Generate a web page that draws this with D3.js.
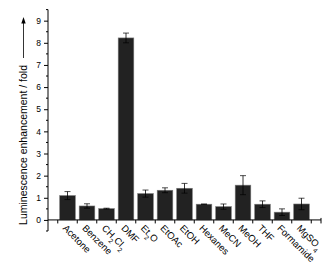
<!DOCTYPE html>
<html>
<head>
<meta charset="utf-8">
<script src="https://cdn.jsdelivr.net/npm/d3@7"></script>
<style>
  body { margin: 0; background: #fff; }
  svg { display: block; font-family: "Liberation Sans", Arial, sans-serif; }
</style>
</head>
<body>
<div id="chart"></div>
<script>
// solvents, as [main, subscript, main, subscript...] pieces
const solvents = [
    ["Acetone"], ["Benzene"], ["CH", "2", "Cl", "2"], ["DMF"], ["Et", "2", "O"],
    ["EtOAc"], ["EtOH"], ["Hexanes"], ["MeCN"], ["MeOH"], ["THF"], ["Formamide"], ["MgSO", "4"]
];
const enhancement = [1.10, 0.63, 0.51, 8.22, 1.19, 1.34, 1.43, 0.71, 0.60, 1.57, 0.71, 0.35, 0.72];
const errors = [0.18, 0.10, 0.02, 0.22, 0.16, 0.11, 0.22, 0.01, 0.12, 0.43, 0.15, 0.15, 0.26];
const yTicks = [0, 1, 2, 3, 4, 5, 6, 7, 8, 9];

const width = 332, height = 273;

const svg = d3.select("#chart")
    .append("svg")
    .attr("width", width)
    .attr("height", height);

const x = d3.scaleLinear().domain([0, 14]).range([48, 321]);
const y = d3.scaleLinear().domain([-0.5, 9.5]).range([231, 9.6]);
const barW = 0.8;

// bars
const bars = svg.selectAll(".bar")
    .data(enhancement)
    .enter()
    .append("g")
    .classed("bar", true);

bars.append("rect")
    .attr("x", (d, i) => x(i + 1 - barW / 2))
    .attr("y", d => y(d))
    .attr("width", x(barW) - x(0))
    .attr("height", d => y(0) - y(d))
    .attr("fill", "#222")
    .attr("stroke", "#777")
    .attr("stroke-width", 0.6);

// error bars
bars.append("line")
    .attr("x1", (d, i) => x(i + 1))
    .attr("x2", (d, i) => x(i + 1))
    .attr("y1", (d, i) => y(d - errors[i]))
    .attr("y2", (d, i) => y(d + errors[i]))
    .attr("stroke", "#000")
    .attr("stroke-width", 0.8);

[-1, 1].forEach(s => {
    bars.append("line")
        .attr("x1", (d, i) => x(i + 1) - 3)
        .attr("x2", (d, i) => x(i + 1) + 3)
        .attr("y1", (d, i) => y(d + s * errors[i]))
        .attr("y2", (d, i) => y(d + s * errors[i]))
        .attr("stroke", "#000")
        .attr("stroke-width", 0.7);
});

// y axis
const yAxis = svg.append("g")
    .attr("transform", `translate(${x(0)},0)`)
    .call(d3.axisLeft(y).tickValues(yTicks).tickSize(4).tickPadding(3).tickFormat(d3.format("d")));
yAxis.select(".domain").attr("d", `M0,${y(-0.5)}V${y(9.5)}`);
yAxis.selectAll("text").style("font-size", "8.5px").attr("fill", "#000");

svg.append("g")
    .selectAll("line")
    .data(d3.range(-0.5, 9.6, 1))
    .enter()
    .append("line")
    .attr("x1", x(0) - 2)
    .attr("x2", x(0))
    .attr("y1", d => y(d))
    .attr("y2", d => y(d))
    .attr("stroke", "#000");

// x axis at zero
svg.append("line")
    .attr("x1", x(0))
    .attr("x2", x(14))
    .attr("y1", y(0))
    .attr("y2", y(0))
    .attr("stroke", "#000");

svg.append("g")
    .selectAll("line")
    .data(d3.range(0.5, 13.6, 1))
    .enter()
    .append("line")
    .attr("x1", d => x(d))
    .attr("x2", d => x(d))
    .attr("y1", y(0))
    .attr("y2", y(0) + 3.5)
    .attr("stroke", "#000");

svg.append("line")
    .attr("x1", x(14))
    .attr("x2", x(14))
    .attr("y1", y(0) - 2)
    .attr("y2", y(0) + 3.5)
    .attr("stroke", "#000");

// category labels, rotated
const labels = svg.selectAll(".cat")
    .data(solvents)
    .enter()
    .append("text")
    .classed("cat", true)
    .attr("transform", (d, i) => `translate(${x(i + 1) - 3},${y(0) + 6.5}) rotate(45)`)
    .attr("dy", "0.35em")
    .style("font-size", "9.5px")
    .attr("fill", "#000");

labels.each(function (parts) {
    const t = d3.select(this);
    parts.forEach((p, k) => {
        const sp = t.append("tspan").text(p);
        if (k % 2 === 1) sp.attr("baseline-shift", "sub").style("font-size", "6.5px");
    });
});

// y label with arrow
svg.append("text")
    .attr("transform", `translate(27,${y(0) + 5}) rotate(-90)`)
    .style("font-size", "10.5px")
    .attr("fill", "#000")
    .text("Luminescence enhancement / fold");

svg.append("line")
    .attr("x1", 23.5)
    .attr("x2", 23.5)
    .attr("y1", 58)
    .attr("y2", 22)
    .attr("stroke", "#000")
    .attr("stroke-width", 0.8);

svg.append("path")
    .attr("d", "M23.5,17L21.3,23.5L25.7,23.5Z")
    .attr("fill", "#000");
</script>
</body>
</html>
